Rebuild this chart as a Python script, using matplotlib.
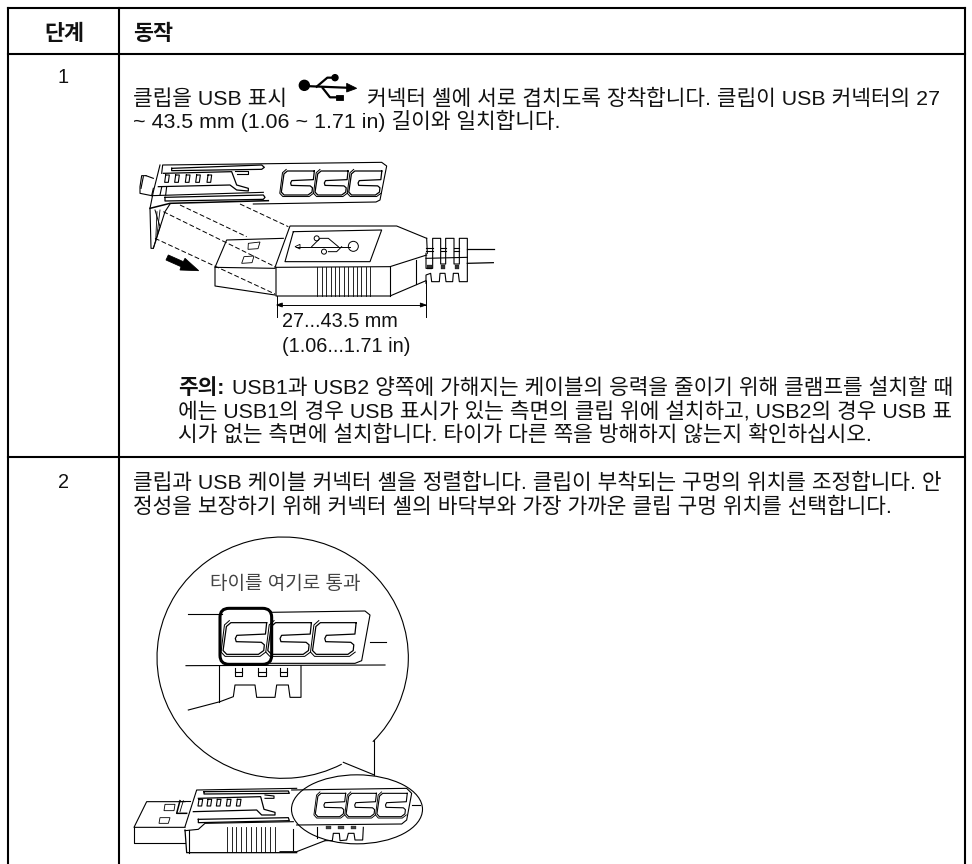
import numpy as np
import matplotlib
matplotlib.use('Agg')
import matplotlib.pyplot as plt
from matplotlib.patches import Polygon, Arc, Ellipse, FancyBboxPatch

plt.rcParams['font.family'] = ['Liberation Sans', 'Noto Sans CJK KR', 'DejaVu Sans']

header = ['단계', '동작']
steps = ['1', '2']
row1_a = '클립을 USB 표시'
row1_b = '커넥터 셸에 서로 겹치도록 장착합니다. 클립이 USB 커넥터의 27'
row1_c = '~ 43.5 mm (1.06 ~ 1.71 in) 길이와 일치합니다.'
dim_labels = ['27...43.5 mm', '(1.06...1.71 in)']
note_bold = '주의:'
note_lines = ['USB1과 USB2 양쪽에 가해지는 케이블의 응력을 줄이기 위해 클램프를 설치할 때',
              '에는 USB1의 경우 USB 표시가 있는 측면의 클립 위에 설치하고, USB2의 경우 USB 표',
              '시가 없는 측면에 설치합니다. 타이가 다른 쪽을 방해하지 않는지 확인하십시오.']
row2_lines = ['클립과 USB 케이블 커넥터 셸을 정렬합니다. 클립이 부착되는 구멍의 위치를 조정합니다. 안',
              '정성을 보장하기 위해 커넥터 셸의 바닥부와 가장 가까운 클립 구멍 위치를 선택합니다.']
callout = '타이를 여기로 통과'

fig = plt.figure(figsize=(9.72, 8.64), dpi=100)
ax = fig.add_axes([0, 0, 1, 1])
ax.set_xlim(0, 972); ax.set_ylim(864, 0); ax.axis('off')

# table grid
for xs, ys in [((8, 965), (8, 8)), ((8, 965), (54, 54)), ((8, 965), (457, 457)),
               ((8, 8), (8, 864)), ((119, 119), (8, 864)), ((965, 965), (8, 864))]:
    ax.plot(xs, ys, color='black', lw=1.5, solid_capstyle='projecting')

FS = 15.4
def T(x, y, s, **k):
    k.setdefault('fontsize', FS); k.setdefault('va', 'baseline'); k.setdefault('color', '#111111')
    ax.text(x, y, s, **k)

T(64, 40, header[0], ha='center', fontweight='bold', fontsize=15.7)
T(133, 40, header[1], fontweight='bold', fontsize=15.7)
T(63, 83, steps[0], ha='center', fontsize=14.3)
T(63, 488, steps[1], ha='center', fontsize=14.3)
T(133, 105, row1_a)
T(367, 105, row1_b)
T(133, 128, row1_c)
T(282, 327, dim_labels[0], fontsize=14.3)
T(282, 352, dim_labels[1], fontsize=14.3)
T(178, 394, note_bold, fontweight='bold')
T(232, 394, note_lines[0])
T(178, 417, note_lines[1])
T(178, 441, note_lines[2])
T(133, 489, row2_lines[0])
T(133, 513, row2_lines[1])
T(210, 589, callout, fontsize=13.7, color='#444444')

O1 = (120, 60); O2 = (120, 500); O3 = (410, 220); O4 = (130, 780); O5 = (280, 770); O6 = (135, 155)
def P(pts, o):
    a = np.array(pts, float)
    return a[:, 0] / 3 + o[0], a[:, 1] / 3 + o[1]
def L(pts, o=O1, lw=0.8, c='black', **k):
    x, y = P(pts, o)
    ax.plot(x, y, color=c, lw=lw, solid_joinstyle='round', **k)
def F(pts, o=O1, fc='black', ec='black', lw=0.6):
    x, y = P(pts, o)
    ax.add_patch(Polygon(np.c_[x, y], closed=True, fc=fc, ec=ec, lw=lw))
C_UNIT = [(1, 0), (0.12, 0), (0.02, 0.12), (0, 0.88), (0.1, 1), (0.88, 1), (1, 0.88), (1, 0.7),
          (0.92, 0.62), (0.3, 0.6), (0.27, 0.5), (0.3, 0.4), (1, 0.36), (1, 0)]
def ccc(x0, y0, w, h, s, o, lw=0.8):
    for i in range(3):
        xb = x0 + i * (w + w * 0.1)
        out = [(xb + u * w + (1 - v) * s, y0 + v * h) for u, v in C_UNIT]
        L(out, o, lw=lw)
        k = w * 0.05
        inn = [(xb - k + u * (w + 2 * k) + (1 - v) * s, y0 - k + v * (h + 2 * k))
               for u, v in C_UNIT[1:7]]
        L(inn, o, lw=lw * 0.8)

# ---- USB icon in text
L([(553, 78), (700, 84)], lw=1.6)
L([(590, 80), (622, 53), (645, 53)], lw=1.6)
L([(608, 84), (630, 112), (655, 112)], lw=1.6)
ax.add_patch(Ellipse((120 + 553 / 3, 60 + 76 / 3), 10, 10, fc='black', ec='black'))
ax.add_patch(Ellipse((120 + 645 / 3, 60 + 53 / 3), 6, 6, fc='black', ec='black'))
F([(648, 104), (668, 104), (668, 120), (648, 120)])
F([(680, 70), (710, 85), (680, 96)])

# ---- diagram 1: clip
L([(125, 340), (128, 315), (785, 307), (800, 318), (780, 420), (768, 426), (400, 432)])
L([(75, 30), (55, 110), (45, 160), (48, 280), (55, 280), (90, 170), (105, 147)], O6)
L([(45, 160), (105, 145), (400, 137)], O6, lw=1.1)
L([(60, 165), (75, 215), (55, 280)], O6, lw=0.7); L([(66, 170), (62, 260)], O6, lw=0.6); L([(75, 165), (66, 240)], O6, lw=0.6)
L([(33, 62), (20, 62), (15, 95), (15, 115), (50, 122), (55, 100)], O6)
L([(25, 65), (18, 100)], O6); L([(33, 62), (55, 70)], O6)
L([(110, 40), (380, 30), (388, 37), (380, 43), (110, 47), (110, 40)], O6, lw=0.9)
L([(90, 127), (385, 120), (390, 127), (385, 133), (90, 138), (90, 127)], O6, lw=0.9)
L([(85, 55), (290, 50), (305, 90), (340, 100), (340, 108), (305, 105), (285, 90), (70, 95)], O6, lw=0.9)
L([(300, 48), (338, 48), (338, 57), (305, 57)], O6)
L([(80, 97), (75, 120)], O6); L([(95, 95), (92, 120)], O6); L([(50, 122), (385, 112)], O6)
for xh in [95, 125, 157, 188, 222]:
    L([(xh - 3, 60), (xh + 8, 60), (xh + 5, 82), (xh - 6, 82), (xh - 3, 60)], O6, lw=0.8)
ccc(483, 333, 92, 72, 8, O1, lw=0.9)
# dashed guide lines
for seg in [[(180, 435), (380, 530)], [(130, 455), (465, 620)], [(105, 535), (465, 702)], [(360, 432), (505, 500)]]:
    L(seg, lw=0.7, ls=(0, (5, 2.5)))
# plug
L([(490, 535), (320, 540), (285, 622), (465, 625)])
L([(285, 622), (285, 678), (465, 705)])
F([(385, 550), (420, 546), (414, 566), (384, 568)], fc='white')
F([(372, 590), (402, 588), (396, 608), (365, 610)], fc='white')
# connector body
L([(465, 622), (510, 498), (830, 498), (920, 535)])
L([(468, 622), (810, 620), (920, 585)])
L([(468, 622), (468, 708), (810, 708), (918, 662)])
L([(810, 620), (810, 708)])
L([(888, 600), (888, 672)])
L([(520, 515), (785, 510), (750, 605), (495, 605), (520, 515)])
L([(528, 560), (690, 560)], lw=0.7); F([(525, 560), (540, 553), (540, 567)], fc='white')
L([(575, 560), (600, 535), (625, 535), (655, 560)], lw=0.7)
L([(625, 575), (650, 575), (665, 560)], lw=0.7)
ax.add_patch(Ellipse((120 + 700 / 3, 60 + 559 / 3), 10, 10, fc='white', ec='black', lw=0.7))
ax.add_patch(Ellipse((120 + 590 / 3, 60 + 535 / 3), 5, 5, fc='white', ec='black', lw=0.7))
ax.add_patch(Ellipse((120 + 612 / 3, 60 + 575 / 3), 5, 5, fc='white', ec='black', lw=0.7))
for xr in np.arange(592, 751, 13.2):
    L([(xr, 621), (xr, 707)], lw=0.6)
# strain relief
L([(48, 100), (48, 145), (68, 145), (68, 55), (92, 55), (92, 132), (107, 132), (107, 55), (132, 55), (132, 132),
   (148, 132), (148, 55), (172, 55), (172, 185), (148, 185), (145, 160), (130, 160), (128, 185), (108, 185),
   (105, 160), (90, 160), (88, 185), (65, 185), (62, 160), (48, 165), (48, 190)], O3)
L([(50, 55), (52, 100)], O3)
L([(48, 115), (172, 112)], O3)
for xb_ in [(48, 68), (92, 107), (132, 148)]:
    L([(xb_[0], 83), (xb_[1], 83)], O3); L([(xb_[0], 92), (xb_[1], 92)], O3)
    F([(xb_[0] + 2, 136), (xb_[1] - 2, 136), (xb_[1] - 2, 146), (xb_[0] + 2, 146)], O3, lw=0.2, fc='#333333')
L([(172, 87), (253, 87)], O3, lw=0.9); L([(172, 130), (250, 128)], O3, lw=0.9)
# insertion arrow
F([(145, 585), (190, 605), (195, 595), (236, 632), (180, 630), (183, 620), (138, 600)])
# dimension
L([(470, 708), (470, 770)], lw=0.7); L([(918, 662), (918, 770)], lw=0.7)
L([(470, 735), (918, 735)], lw=0.7)
F([(470, 735), (487, 729), (487, 741)]); F([(918, 735), (901, 729), (901, 741)])

# ---- diagram 2: callout
ax.add_patch(Arc((120 + 488 / 3, 500 + 473 / 3), 2 * 377 / 3, 2 * 362 / 3, theta1=61, theta2=403, color='black', lw=0.8))
L([(763, 720), (763, 825)], O2); L([(670, 787), (763, 825)], O2)
L([(205, 342), (305, 342)], O2)
L([(450, 337), (735, 333), (750, 345), (725, 482), (705, 490), (450, 490)], O2)
L([(750, 427), (798, 427)], O2)
L([(198, 497), (795, 495)], O2)
L([(205, 630), (300, 605), (340, 590), (345, 555), (405, 555), (410, 592), (465, 592), (470, 555), (505, 555), (510, 592), (543, 592), (543, 497)], O2)
L([(297, 497), (297, 605)], O2)
for xs_ in [345, 415, 480]:
    L([(xs_, 505), (xs_, 528), (xs_ + 22, 528), (xs_ + 22, 505)], O2)
    L([(xs_, 515), (xs_ + 22, 515)], O2)
ccc(308, 368, 122, 95, 10, O2, lw=0.9)
x_, y_ = 120 + 300 / 3, 500 + 325 / 3
ax.add_patch(FancyBboxPatch((x_, y_), 155 / 3, 168 / 3, boxstyle='round,pad=0,rounding_size=9', fc='none', ec='black', lw=2.2))

# ---- diagram 2: connector below
ax.add_patch(Ellipse((280 + 231 / 3, 770 + 118 / 3), 393 / 3, 207 / 3, fc='none', ec='black', lw=0.8))
L([(165, 65), (50, 65), (12, 142), (165, 142)], O4)
L([(12, 142), (12, 188), (165, 188)], O4)
F([(105, 73), (135, 73), (132, 92), (102, 92)], O4, fc='white')
F([(90, 113), (120, 113), (115, 130), (87, 130)], O4, fc='white')
L([(150, 62), (140, 100), (170, 100)], O4, lw=1.1); L([(150, 62), (180, 62)], O4); L([(160, 62), (150, 95)], O4, lw=0.6)
L([(165, 140), (200, 30), (500, 25)], O4)
L([(222, 35), (475, 33), (478, 40), (222, 42), (222, 35)], O4, lw=0.9)
L([(205, 55), (392, 50), (402, 88), (435, 97), (435, 105), (395, 105), (380, 90), (190, 95)], O4, lw=0.9)
L([(405, 45), (432, 48), (432, 55), (405, 55)], O4)
L([(205, 118), (475, 113), (478, 122), (205, 128), (205, 118)], O4, lw=0.9)
for xh in [210, 237, 265, 295, 325]:
    L([(xh - 3, 58), (xh + 8, 58), (xh + 5, 78), (xh - 6, 78), (xh - 3, 58)], O4, lw=0.8)
L([(165, 152), (205, 148), (225, 130), (490, 125)], O4)
L([(165, 150), (170, 218), (500, 218)], O4, lw=0.9); L([(178, 150), (178, 218)], O4)
for xr in np.arange(290, 436, 14.5):
    L([(xr, 140), (xr, 216)], O4, lw=0.6)
L([(35, 60), (380, 55), (395, 70), (380, 150), (365, 162), (50, 165)], O5)
L([(395, 105), (420, 105)], O5)
ccc(105, 70, 84, 70, 8, O5, lw=0.8)
L([(40, 178), (40, 240)], O5); L([(0, 245), (50, 245), (135, 212)], O5)
L([(112, 172), (112, 205)], O5)
L([(135, 212), (157, 212), (160, 190), (178, 190), (180, 212), (200, 210), (205, 190), (222, 190), (225, 210), (248, 210), (250, 172)], O5)
for xs_ in [138, 175, 212]:
    F([(xs_, 168), (xs_ + 16, 168), (xs_ + 16, 177), (xs_, 177)], O5, lw=0.2, fc='#444444')

fig.savefig('out.png', dpi=100)
